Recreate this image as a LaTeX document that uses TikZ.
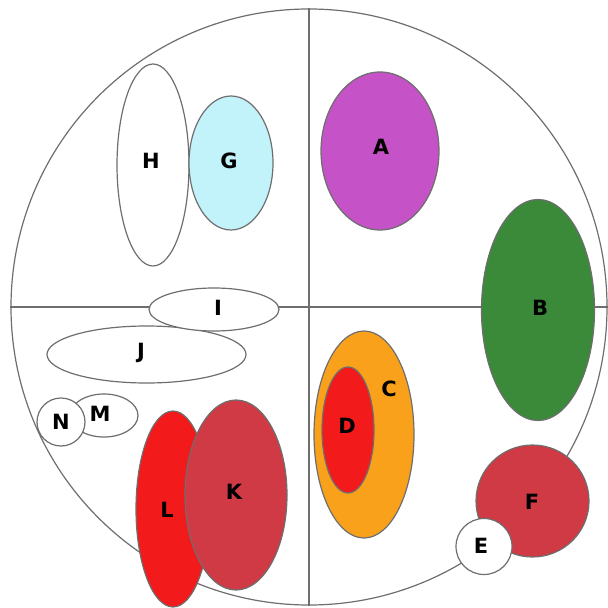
\documentclass[tikz,border=0pt]{standalone}
\usepackage{fontspec}
\setsansfont{DejaVu Sans}
\usetikzlibrary{shapes.geometric}
\definecolor{rim}{HTML}{6E6E6E}
\definecolor{cyanG}{HTML}{C2F2FA}
\definecolor{magA}{HTML}{C552C6}
\definecolor{greenB}{HTML}{3A8A3A}
\definecolor{orangeC}{HTML}{F9A11B}
\definecolor{redD}{HTML}{F21A1A}
\definecolor{rose}{HTML}{CF3A44}
\tikzset{set/.style={ellipse, draw=rim, line width=0.6pt, inner sep=0pt, fill=white,
    font=\sffamily\bfseries\fontsize{10.5}{12}\selectfont},
  sz/.style 2 args={minimum width=#1pt, minimum height=#2pt},
  lbl/.style={inner sep=0pt, font=\sffamily\bfseries\fontsize{10.5}{12}\selectfont}}

\begin{document}
\begin{tikzpicture}[x=0.5pt, y=-0.5pt]
  \useasboundingbox (0,0) rectangle (607,608);
  \node[circle, draw=rim, line width=0.6pt, minimum size=298pt, inner sep=0pt] (disc) at (309,307) {};
  \draw[rim, line width=0.7pt] (disc.north) -- (disc.south);
  \draw[rim, line width=0.7pt] (disc.west) -- (disc.east);
  % upper left
  \node[set, sz={36}{101}] (H) at (153,165) {};
  \node[lbl] (lblH) at (151,161) {H};
  \node[set, sz={42}{67}, fill=cyanG] (G) at (231,163) {};
  \node[lbl] (lblG) at (229,161) {G};
  % upper right
  \node[set, sz={59}{79}, fill=magA] (A) at (380,151) {};
  \node[lbl] (lblA) at (381,147) {A};
  \node[set, sz={56.5}{110.5}, fill=greenB] (B) at (538,310) {};
  \node[lbl] (lblB) at (540,308) {B};
  % lower left
  \node[set, sz={99.5}{28.5}] (J) at (146.5,354.5) {};
  \node[lbl] (lblJ) at (141,353) {J};
  \node[set, sz={65}{21.5}] (I) at (214,309.5) {};
  \node[lbl] (lblI) at (218,308) {I};
  \node[set, sz={34}{21.5}] (M) at (104,415.5) {};
  \node[lbl] (lblM) at (100,414) {M};
  \node[set, sz={24}{24}] (N) at (61,422) {N};
  \node[set, sz={37}{98}, fill=redD] (L) at (173,509) {};
  \node[lbl] (lblL) at (167,510) {L};
  \node[set, sz={51}{95}, fill=rose] (K) at (236,495) {};
  \node[lbl] (lblK) at (234,492) {K};
  % lower right
  \node[set, sz={50}{103.5}, fill=orangeC] (C) at (364,434.5) {};
  \node[lbl] (lblC) at (389,389) {C};
  \node[set, sz={26}{63}, fill=redD] (D) at (348,430) {};
  \node[lbl] (lblD) at (347,426) {D};
  \node[set, sz={56.5}{56}, fill=rose] (F) at (532.5,501) {};
  \node[lbl] (lblF) at (532,502) {F};
  \node[set, sz={28}{28}] (E) at (484,546.5) {};
  \node[lbl] (lblE) at (481,546) {E};
\end{tikzpicture}
\end{document}
